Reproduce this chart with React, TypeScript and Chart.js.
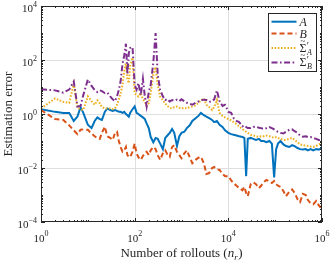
import React, { useEffect, useRef } from "react";
import { Chart, registerables } from "chart.js";

Chart.register(...registerables);

// ---------------- data ----------------
const rollouts = [
  1, 2, 3, 4, 5, 6, 7, 8, 10, 12,
  14, 16, 18, 20, 23, 26, 30, 34, 38, 42,
  46, 50, 55, 60, 65, 70, 75, 80, 90, 100,
  110, 120, 135, 150, 165, 180, 200, 220, 250, 280,
  310, 350, 400, 450, 500, 560, 630, 700, 800, 900,
  1000, 1150, 1300, 1500, 1700, 2000, 2300, 2600, 3000, 3400,
  3900, 4500, 5000, 5700, 6500, 7500, 8500, 10000, 11500, 13000,
  15000, 17000, 20000, 22000, 24000, 26000, 30000, 34000, 39000, 45000,
  50000, 57000, 65000, 75000, 85000, 95000, 105000, 115000, 130000, 150000,
  170000, 200000, 230000, 260000, 300000, 340000, 390000, 450000, 500000, 570000,
  650000, 750000, 850000, 1000000,
];

const errA = [
  1.5, 1.2, 1.1, 1.1, 0.55, 0.8, 1.8, 1.1, 0.4, 0.3,
  0.55, 0.75, 0.65, 0.6, 1.2, 1.6, 1.4, 1.3, 1.4, 1.3,
  1.2, 1.2, 1.1, 1.2, 1.0, 0.9, 0.8, 1.1, 1.5, 1.9,
  1.1, 1.0, 0.85, 0.75, 0.65, 0.45, 0.3, 0.14, 0.09, 0.13,
  0.12, 0.08, 0.05, 0.13, 0.16, 0.2, 0.28, 0.2, 0.065, 0.15,
  0.2, 0.22, 0.3, 0.38, 0.55, 0.7, 0.85, 1.1, 0.9, 0.8,
  0.7, 0.6, 0.5, 0.55, 0.4, 0.33, 0.25, 0.2, 0.18, 0.17,
  0.16, 0.15, 0.14, 0.13, 0.005, 0.12, 0.13, 0.12, 0.11, 0.12,
  0.1, 0.1, 0.09, 0.1, 0.08, 0.0045, 0.05, 0.08, 0.1, 0.075,
  0.065, 0.06, 0.07, 0.065, 0.055, 0.05, 0.048, 0.05, 0.045, 0.05,
  0.045, 0.05, 0.048, 0.055,
];

const errB = [
  1.4, 0.65, 0.6, 0.38, 0.25, 0.18, 0.26, 0.27, 0.26, 0.19,
  0.15, 0.13, 0.12, 0.2, 0.34, 0.15, 0.13, 0.11, 0.2, 0.22,
  0.1, 0.06, 0.04, 0.045, 0.06, 0.03, 0.026, 0.025, 0.04, 0.08,
  0.035, 0.025, 0.02, 0.028, 0.035, 0.04, 0.03, 0.045, 0.06, 0.05,
  0.03, 0.02, 0.035, 0.045, 0.032, 0.026, 0.06, 0.07, 0.04, 0.03,
  0.023, 0.035, 0.045, 0.025, 0.015, 0.02, 0.024, 0.026, 0.015, 0.006,
  0.0065, 0.01, 0.011, 0.009, 0.0085, 0.006, 0.005, 0.005, 0.0035, 0.0027,
  0.0022, 0.0018, 0.0015, 0.002, 0.0012, 0.0009, 0.0025, 0.003, 0.0025, 0.0018,
  0.0022, 0.003, 0.0036, 0.0032, 0.0028, 0.0033, 0.0025, 0.0022, 0.002, 0.0014,
  0.0009, 0.0013, 0.0016, 0.0012, 0.0007, 0.00055, 0.0011, 0.001, 0.00065, 0.0005,
  0.00045, 0.0006, 0.00042, 0.0003,
];

const errSigmaA = [
  1.6, 3.8, 2.8, 2.6, 13, 1.7, 1.5, 1.4, 4.5, 3.0,
  2.2, 3.2, 2.5, 1.8, 1.6, 1.6, 1.6, 1.5, 1.6, 2.2,
  3.5, 5.5, 12, 40, 75, 20, 14, 60, 120, 6,
  5, 4.4, 6, 3.5, 2.9, 2.0, 2.5, 6, 30, 55,
  12, 4.4, 3.3, 2.4, 2.0, 1.7, 1.6, 1.8, 1.9, 1.7,
  1.6, 1.7, 1.6, 1.8, 1.9, 2.1, 2.6, 3.2, 3.8, 2.2,
  1.8, 1.4, 1.8, 3.3, 1.1, 0.85, 0.75, 0.65, 0.58, 0.5,
  0.42, 0.34, 0.28, 0.24, 0.22, 0.2, 0.17, 0.16, 0.15, 0.14,
  0.15, 0.15, 0.16, 0.15, 0.14, 0.13, 0.14, 0.13, 0.12, 0.11,
  0.11, 0.12, 0.13, 0.11, 0.09, 0.075, 0.07, 0.068, 0.065, 0.062,
  0.06, 0.065, 0.075, 0.08,
];

const errSigmaB = [
  8.2, 7.5, 6.2, 8, 16, 1.9, 2.0, 5, 19, 11,
  7.7, 6.5, 7.5, 7.0, 6, 6.2, 4.5, 3.5, 3.0, 4.5,
  8, 16, 70, 150, 400, 30, 180, 280, 300, 12,
  8, 14, 5, 20, 4.4, 1.9, 6.5, 12, 80, 1000,
  30, 7.7, 4.5, 3.3, 3.6, 2.9, 3.3, 3.1, 3.4, 3.0,
  3.5, 3.0, 2.6, 2.4, 2.2, 2.6, 2.9, 3.2, 3.4, 3.3,
  2.8, 3.0, 3.5, 7.5, 3.0, 2.0, 2.2, 1.2, 1.1, 0.7,
  0.55, 0.5, 0.35, 0.38, 0.33, 0.3, 0.3, 0.33, 0.34, 0.31,
  0.3, 0.28, 0.3, 0.33, 0.3, 0.27, 0.24, 0.22, 0.2, 0.19,
  0.22, 0.26, 0.27, 0.23, 0.2, 0.16, 0.145, 0.15, 0.14, 0.14,
  0.13, 0.12, 0.11, 0.11,
];

const xTickExponents = [0, 2, 4, 6];
const yTickExponents = [-4, -2, 0, 2, 4];
const xTitle = "Number of rollouts";
const yTitle = "Estimation error";
const seriesLabels = ["A", "B", "Σ\u0303\u2032A", "Σ\u0303\u2032B"];

// ---------------- styles ----------------
const SERIF = '"Liberation Serif", "Times New Roman", serif';
const AXIS = "#262626";
const GRID = "#dfdfdf";
const COLORS = ["#0072BD", "#D95319", "#EDB120", "#7E2F8E"];
const DASHES: number[][] = [[], [5, 3], [1.6, 1.6], [6, 2.5, 1.6, 2.5]];

function expText(e: number) {
  return e < 0 ? "\u2212" + String(-e) : String(e);
}

const axesPlugin = {
  id: "matlabAxes",
  beforeDatasetsDraw(chart: any) {
    const { ctx, chartArea: a, scales } = chart;
    ctx.save();
    ctx.strokeStyle = GRID;
    ctx.lineWidth = 1;
    for (const e of xTickExponents) {
      const px = Math.round(scales.x.getPixelForValue(Math.pow(10, e))) + 0.5;
      if (px <= a.left + 1 || px >= a.right - 1) continue;
      ctx.beginPath();
      ctx.moveTo(px, a.top);
      ctx.lineTo(px, a.bottom);
      ctx.stroke();
    }
    for (const e of yTickExponents) {
      const py = Math.round(scales.y.getPixelForValue(Math.pow(10, e))) + 0.5;
      if (py <= a.top + 1 || py >= a.bottom - 1) continue;
      ctx.beginPath();
      ctx.moveTo(a.left, py);
      ctx.lineTo(a.right, py);
      ctx.stroke();
    }
    ctx.restore();
  },
  afterDatasetsDraw(chart: any) {
    const { ctx, chartArea: a, scales } = chart;
    ctx.save();
    ctx.strokeStyle = AXIS;
    ctx.lineWidth = 1;
    ctx.strokeRect(Math.round(a.left) + 0.5, Math.round(a.top) + 0.5, Math.round(a.right - a.left) - 1, Math.round(a.bottom - a.top) - 1);

    // x ticks
    ctx.beginPath();
    for (let d = 0; d <= 6; d++) {
      for (let k = 1; k <= 9; k++) {
        const v = k * Math.pow(10, d);
        if (v > 1e6) break;
        const major = k === 1 && xTickExponents.includes(d);
        const len = major ? 4 : 2;
        const px = Math.round(scales.x.getPixelForValue(v)) + 0.5;
        ctx.moveTo(px, a.bottom);
        ctx.lineTo(px, a.bottom - len);
        ctx.moveTo(px, a.top);
        ctx.lineTo(px, a.top + len);
      }
    }
    // y ticks
    for (let d = -4; d <= 4; d++) {
      for (let k = 1; k <= 9; k++) {
        const v = k * Math.pow(10, d);
        if (v > 1e4) break;
        const major = k === 1 && yTickExponents.includes(d);
        const len = major ? 4 : 2;
        const py = Math.round(scales.y.getPixelForValue(v)) + 0.5;
        ctx.moveTo(a.left, py);
        ctx.lineTo(a.left + len, py);
        ctx.moveTo(a.right, py);
        ctx.lineTo(a.right - len, py);
      }
    }
    ctx.stroke();

    // tick labels
    ctx.fillStyle = AXIS;
    ctx.textBaseline = "alphabetic";
    ctx.textAlign = "left";
    const baseFont = `11px ${SERIF}`;
    const expFont = `8px ${SERIF}`;
    for (const e of xTickExponents) {
      const px = scales.x.getPixelForValue(Math.pow(10, e));
      ctx.font = baseFont;
      const wb = ctx.measureText("10").width;
      ctx.font = expFont;
      const we = ctx.measureText(expText(e)).width;
      const x0 = px - (wb + we) / 2;
      ctx.font = baseFont;
      ctx.fillText("10", x0, a.bottom + 19.5);
      ctx.font = expFont;
      ctx.fillText(expText(e), x0 + wb, a.bottom + 14);
    }
    for (const e of yTickExponents) {
      const py = scales.y.getPixelForValue(Math.pow(10, e));
      ctx.font = expFont;
      const we = ctx.measureText(expText(e)).width;
      ctx.font = baseFont;
      const wb = ctx.measureText("10").width;
      const xr = a.left - 4;
      ctx.font = baseFont;
      ctx.fillText("10", xr - we - wb, py + 5.5);
      ctx.font = expFont;
      ctx.fillText(expText(e), xr - we, py + 0.5);
    }

    // axis titles
    const titleFont = `13px ${SERIF}`;
    ctx.font = titleFont;
    const wMain = ctx.measureText(xTitle + " (").width;
    ctx.font = `italic 13px ${SERIF}`;
    const wn = ctx.measureText("n").width;
    ctx.font = `italic 9px ${SERIF}`;
    const wr = ctx.measureText("r").width;
    ctx.font = titleFont;
    const wc = ctx.measureText(")").width;
    const total = wMain + wn + wr + 0.5 + wc;
    const cx = (a.left + a.right) / 2;
    let tx = cx - total / 2;
    const ty = a.bottom + 35;
    ctx.fillText(xTitle + " (", tx, ty);
    tx += wMain;
    ctx.font = `italic 13px ${SERIF}`;
    ctx.fillText("n", tx, ty);
    tx += wn;
    ctx.font = `italic 9px ${SERIF}`;
    ctx.fillText("r", tx, ty + 2.5);
    tx += wr + 0.5;
    ctx.font = titleFont;
    ctx.fillText(")", tx, ty);

    ctx.save();
    ctx.translate(12, (a.top + a.bottom) / 2);
    ctx.rotate(-Math.PI / 2);
    ctx.textAlign = "center";
    ctx.font = titleFont;
    ctx.fillText(yTitle, 0, 0);
    ctx.restore();

    // legend
    const bl = Math.round(a.right) - 54 + 0.5;
    const br = Math.round(a.right) - 6 + 0.5;
    const bt = Math.round(a.top) + 7 + 0.5;
    const bb = Math.round(a.top) + 65 + 0.5;
    ctx.fillStyle = "#ffffff";
    ctx.fillRect(bl, bt, br - bl, bb - bt);
    ctx.strokeStyle = AXIS;
    ctx.lineWidth = 1;
    ctx.strokeRect(bl, bt, br - bl, bb - bt);
    const rowsY = [a.top + 15.7, a.top + 27.5, a.top + 42, a.top + 56.5];
    for (let i = 0; i < 4; i++) {
      const y = rowsY[i];
      ctx.save();
      ctx.strokeStyle = COLORS[i];
      ctx.lineWidth = 2;
      ctx.setLineDash(DASHES[i]);
      ctx.beginPath();
      ctx.moveTo(bl + 3, y);
      ctx.lineTo(bl + 28, y);
      ctx.stroke();
      ctx.restore();
      ctx.fillStyle = AXIS;
      const lx = bl + 31;
      if (i < 2) {
        ctx.font = `italic 12px ${SERIF}`;
        ctx.fillText(seriesLabels[i], lx, y + 4);
      } else {
        const sub = i === 2 ? "A" : "B";
        ctx.font = `12px ${SERIF}`;
        ctx.fillText("Σ", lx, y + 3.5);
        const ws = ctx.measureText("Σ").width;
        ctx.font = `9px ${SERIF}`;
        ctx.textAlign = "center";
        ctx.fillText("~", lx + ws / 2, y - 4.5);
        ctx.textAlign = "left";
        ctx.font = `10px ${SERIF}`;
        ctx.fillText("\u2032", lx + ws + 0.3, y + 0.5);
        ctx.font = `italic 8px ${SERIF}`;
        ctx.fillText(sub, lx + ws + 0.5, y + 6.5);
      }
    }
    ctx.restore();
  },
};

export default function App() {
  const ref = useRef<HTMLCanvasElement>(null);
  useEffect(() => {
    const canvas = ref.current;
    if (!canvas) return;
    const series = [errA, errB, errSigmaA, errSigmaB];
    const chart = new Chart(canvas, {
      type: "line",
      data: {
        datasets: series.map((vals, i) => ({
          label: seriesLabels[i],
          data: rollouts.map((x, j) => ({ x, y: vals[j] })),
          borderColor: COLORS[i],
          backgroundColor: COLORS[i],
          borderWidth: 2,
          borderDash: DASHES[i],
          pointRadius: 0,
          tension: 0,
          fill: false,
          order: 4 - i,
        })),
      },
      options: {
        animation: false,
        responsive: false,
        devicePixelRatio: 1,
        layout: { padding: { left: 41, right: 10, top: 6, bottom: 38 } },
        scales: {
          x: { type: "logarithmic", min: 1, max: 1e6, display: false },
          y: { type: "logarithmic", min: 1e-4, max: 1e4, display: false },
        },
        plugins: { legend: { display: false }, tooltip: { enabled: false } },
      },
      plugins: [axesPlugin],
    } as any);
    return () => chart.destroy();
  }, []);
  return (
    <div style={{ position: "absolute", left: 0, top: 0, width: 332, height: 260, background: "#fff" }}>
      <canvas ref={ref} width={332} height={260} style={{ display: "block", width: 332, height: 260 }} />
    </div>
  );
}
